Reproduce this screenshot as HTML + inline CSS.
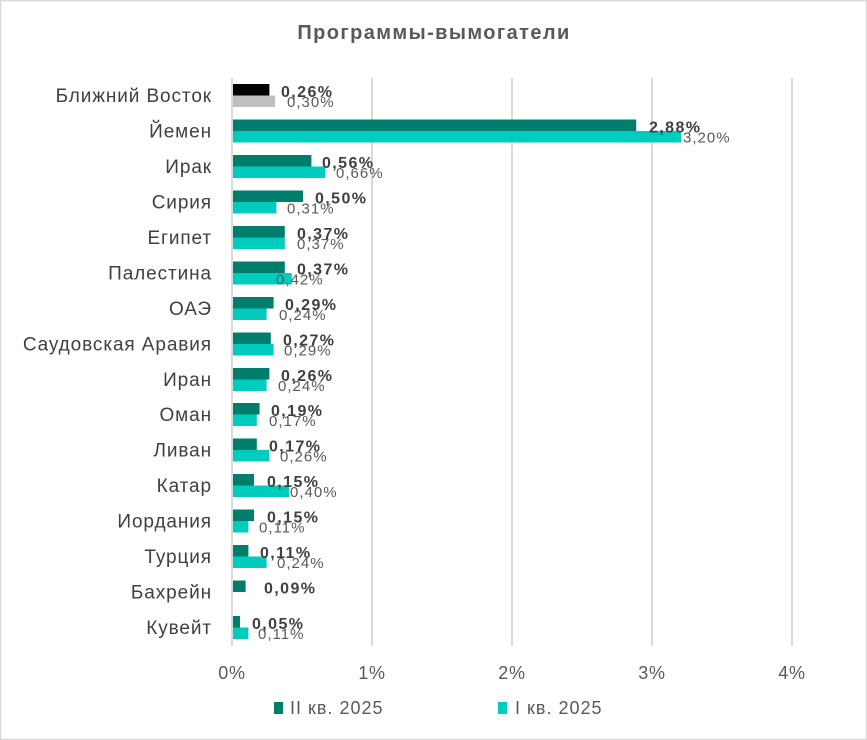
<!DOCTYPE html>
<html><head><meta charset="utf-8"><style>
html,body{margin:0;padding:0;background:#fff}
svg{display:block;font-family:"Liberation Sans",sans-serif}
.c{font-size:19px;fill:#404040;text-anchor:end;letter-spacing:0.9px}
.d{font-size:16px;font-weight:bold;fill:#404040;letter-spacing:1.4px}
.l{font-size:15px;fill:#595959;letter-spacing:1px}
</style></head><body>
<svg width="867" height="740" viewBox="0 0 867 740" xmlns="http://www.w3.org/2000/svg">
<rect x="0.5" y="0.5" width="866" height="739" fill="#fff" stroke="#d9d9d9" stroke-width="1.5"/>
<text x="434" y="39" text-anchor="middle" font-size="20" font-weight="bold" fill="#595959" letter-spacing="1.4">Программы-вымогатели</text>
<g stroke="#d9d9d9" stroke-width="2">
<line x1="372" y1="78" x2="372" y2="646"/><line x1="512" y1="78" x2="512" y2="646"/>
<line x1="652" y1="78" x2="652" y2="646"/><line x1="792" y1="78" x2="792" y2="646"/>
<line x1="232" y1="78" x2="232" y2="646"/>
</g>
<g>
<text class="c" x="212" y="102">Ближний Восток</text>
<rect x="233" y="84" width="36.4" height="11.5" fill="#000"/><rect x="233" y="95.5" width="42" height="11.5" fill="#bfbfbf"/>
<text class="l" x="287" y="107">0,30%</text><text class="d" x="281" y="97">0,26%</text>

<text class="c" x="212" y="137.5">Йемен</text>
<rect x="233" y="119.5" width="403.2" height="11.5" fill="#007e6b"/><rect x="233" y="131" width="448" height="11.5" fill="#00ccbe"/>
<text class="l" x="683" y="142.5">3,20%</text><text class="d" x="649" y="132.5">2,88%</text>

<text class="c" x="212" y="173">Ирак</text>
<rect x="233" y="155" width="78.4" height="11.5" fill="#007e6b"/><rect x="233" y="166.5" width="92.4" height="11.5" fill="#00ccbe"/>
<text class="l" x="336" y="178">0,66%</text><text class="d" x="322" y="168">0,56%</text>

<text class="c" x="212" y="208.5">Сирия</text>
<rect x="233" y="190.5" width="70" height="11.5" fill="#007e6b"/><rect x="233" y="202" width="43.4" height="11.5" fill="#00ccbe"/>
<text class="l" x="287" y="213.5">0,31%</text><text class="d" x="315" y="203.5">0,50%</text>

<text class="c" x="212" y="244">Египет</text>
<rect x="233" y="226" width="51.8" height="11.5" fill="#007e6b"/><rect x="233" y="237.5" width="51.8" height="11.5" fill="#00ccbe"/>
<text class="l" x="297" y="249">0,37%</text><text class="d" x="297" y="239">0,37%</text>

<text class="c" x="212" y="279.5">Палестина</text>
<rect x="233" y="261.5" width="51.8" height="11.5" fill="#007e6b"/><rect x="233" y="273" width="58.8" height="11.5" fill="#00ccbe"/>
<text class="l" x="276" y="284.5">0,42%</text><text class="d" x="297" y="274.5">0,37%</text>

<text class="c" x="212" y="315">ОАЭ</text>
<rect x="233" y="297" width="40.6" height="11.5" fill="#007e6b"/><rect x="233" y="308.5" width="33.6" height="11.5" fill="#00ccbe"/>
<text class="l" x="279" y="320">0,24%</text><text class="d" x="285" y="310">0,29%</text>

<text class="c" x="212" y="350.5">Саудовская Аравия</text>
<rect x="233" y="332.5" width="37.8" height="11.5" fill="#007e6b"/><rect x="233" y="344" width="40.6" height="11.5" fill="#00ccbe"/>
<text class="l" x="284" y="355.5">0,29%</text><text class="d" x="283" y="345.5">0,27%</text>

<text class="c" x="212" y="386">Иран</text>
<rect x="233" y="368" width="36.4" height="11.5" fill="#007e6b"/><rect x="233" y="379.5" width="33.6" height="11.5" fill="#00ccbe"/>
<text class="l" x="278" y="391">0,24%</text><text class="d" x="281" y="381">0,26%</text>

<text class="c" x="212" y="421">Оман</text>
<rect x="233" y="403" width="26.6" height="11.5" fill="#007e6b"/><rect x="233" y="414.5" width="23.8" height="11.5" fill="#00ccbe"/>
<text class="l" x="269" y="426">0,17%</text><text class="d" x="271" y="416">0,19%</text>

<text class="c" x="212" y="456.5">Ливан</text>
<rect x="233" y="438.5" width="23.8" height="11.5" fill="#007e6b"/><rect x="233" y="450" width="36.4" height="11.5" fill="#00ccbe"/>
<text class="l" x="280" y="461.5">0,26%</text><text class="d" x="269" y="451.5">0,17%</text>

<text class="c" x="212" y="492">Катар</text>
<rect x="233" y="474" width="21" height="11.5" fill="#007e6b"/><rect x="233" y="485.5" width="56" height="11.5" fill="#00ccbe"/>
<text class="l" x="290" y="497">0,40%</text><text class="d" x="267" y="487">0,15%</text>

<text class="c" x="212" y="527.5">Иордания</text>
<rect x="233" y="509.5" width="21" height="11.5" fill="#007e6b"/><rect x="233" y="521" width="15.4" height="11.5" fill="#00ccbe"/>
<text class="l" x="259" y="532.5">0,11%</text><text class="d" x="267" y="522.5">0,15%</text>

<text class="c" x="212" y="563">Турция</text>
<rect x="233" y="545" width="15.4" height="11.5" fill="#007e6b"/><rect x="233" y="556.5" width="33.6" height="11.5" fill="#00ccbe"/>
<text class="l" x="277" y="568">0,24%</text><text class="d" x="260" y="558">0,11%</text>

<text class="c" x="212" y="598.5">Бахрейн</text>
<rect x="233" y="580.5" width="12.6" height="11.5" fill="#007e6b"/>
<text class="d" x="264" y="593.5">0,09%</text>

<text class="c" x="212" y="634">Кувейт</text>
<rect x="233" y="616" width="7" height="11.5" fill="#007e6b"/><rect x="233" y="627.5" width="15.4" height="11.5" fill="#00ccbe"/>
<text class="l" x="258" y="639">0,11%</text><text class="d" x="252" y="629">0,05%</text>
</g>
<g font-size="18" fill="#595959" text-anchor="middle" letter-spacing="0.8">
<text x="232" y="679">0%</text><text x="372" y="679">1%</text><text x="512" y="679">2%</text><text x="652" y="679">3%</text><text x="792" y="679">4%</text>
</g>
<rect x="274" y="702" width="9" height="12" fill="#007e6b"/>
<text x="290" y="714" font-size="18" fill="#595959" letter-spacing="1">II кв. 2025</text>
<rect x="498" y="702" width="9" height="12" fill="#00ccbe"/>
<text x="515" y="714" font-size="18" fill="#595959" letter-spacing="1">I кв. 2025</text>
</svg>
</body></html>
